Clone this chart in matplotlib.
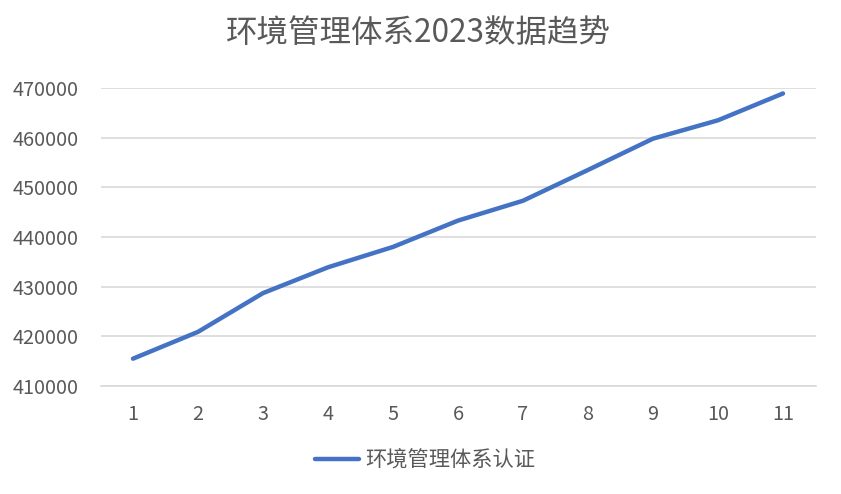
import numpy as np
import matplotlib
matplotlib.use('Agg')
import matplotlib.pyplot as plt

plt.rcParams['font.family'] = ['Noto Sans CJK SC', 'DejaVu Sans']

months = list(range(1, 12))
values = [415500, 420900, 428700, 433900, 438000, 443300, 447300,
          453500, 459800, 463500, 468900]
y_ticks = [410000, 420000, 430000, 440000, 450000, 460000, 470000]
title = '环境管理体系2023数据趋势'
series_name = '环境管理体系认证'

fig = plt.figure(figsize=(8.41, 4.94), dpi=100)
ax = fig.add_axes([100.5 / 841, 1 - 386 / 494, 715 / 841, 298 / 494])

ax.plot(months, values, color='#4472C4', lw=3.2, solid_capstyle='round',
        solid_joinstyle='round', label=series_name)

ax.set_xlim(0.5, 11.5)
ax.set_ylim(y_ticks[0], y_ticks[-1])
ax.set_xticks(months)
ax.set_yticks(y_ticks)
ax.grid(axis='y', color='#D9D9D9', lw=1.2)
ax.set_axisbelow(True)
for s in ax.spines.values():
    s.set_visible(False)
ax.spines['bottom'].set_visible(True)
ax.spines['bottom'].set_color('#D9D9D9')
ax.spines['bottom'].set_linewidth(1.2)
ax.tick_params(length=0, labelsize=14.3, labelcolor='#595959')
ax.tick_params(axis='y', pad=16)
ax.tick_params(axis='x', pad=13)
for lab in ax.get_yticklabels():
    lab.set_horizontalalignment('right')

fig.text(0.497, 1 - 33 / 494, title, ha='center', va='center',
         fontsize=22.7, color='#595959')

ax.legend(loc='center', bbox_to_anchor=(0.454, -0.25), frameon=False,
          fontsize=15.3, labelcolor='#595959', handlelength=2.1,
          handletextpad=0.3)

fig.savefig('out.png', dpi=100)
